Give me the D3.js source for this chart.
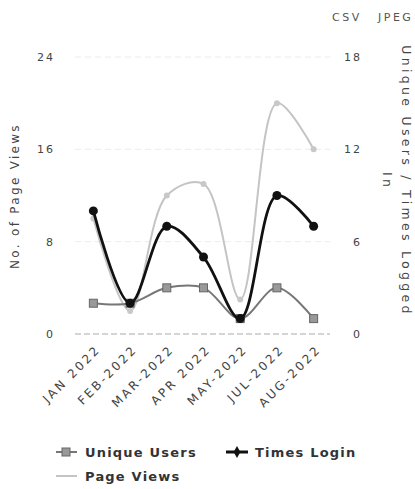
<!DOCTYPE html>
<html>
<head>
<meta charset="utf-8">
<script src="https://cdn.jsdelivr.net/npm/d3@7"></script>
<style>
  body { margin: 0; background: #fff; }
  svg { display: block; font-family: "DejaVu Sans", Verdana, sans-serif; }
</style>
</head>
<body>
<svg id="chart" width="415" height="489"></svg>
<script>
// data
var months = ["JAN 2022", "FEB-2022", "MAR-2022", "APR 2022", "MAY-2022", "JUL-2022", "AUG-2022"];
var uniqueUsers = [2, 2, 3, 3, 1, 3, 1];
var timesLogin = [8, 2, 7, 5, 1, 9, 7];
var pageViews = [10, 2, 12, 13, 3, 20, 16];
var leftTicks = [0, 8, 16, 24];
var rightTicks = [0, 6, 12, 18];

var svg = d3.select("#chart");

var x = d3.scalePoint().domain(months).range([75, 332]).padding(0.5);
var yLeft = d3.scaleLinear().domain([0, 24]).range([334, 57]);
var yRight = d3.scaleLinear().domain([0, 18]).range([334, 57]);

// grid lines
svg.append("g").selectAll("line")
  .data(leftTicks.slice(1))
  .enter().append("line")
    .attr("x1", 75).attr("x2", 330)
    .attr("y1", function(d) { return yLeft(d); })
    .attr("y2", function(d) { return yLeft(d); })
    .attr("stroke", "#ececec")
    .attr("stroke-dasharray", "6,4");

svg.append("line")
  .attr("x1", 75).attr("x2", 330)
  .attr("y1", yLeft(0)).attr("y2", yLeft(0))
  .attr("stroke", "#aaa")
  .attr("stroke-dasharray", "6,3");

// left axis labels
svg.append("g").selectAll("text")
  .data(leftTicks)
  .enter().append("text")
    .attr("x", 55)
    .attr("y", function(d) { return yLeft(d) + 4; })
    .attr("text-anchor", "end")
    .attr("font-size", 11)
    .attr("letter-spacing", 2)
    .attr("fill", "#444")
    .text(function(d) { return d; });

// right axis labels
svg.append("g").selectAll("text")
  .data(rightTicks)
  .enter().append("text")
    .attr("x", 362)
    .attr("y", function(d) { return yRight(d) + 4; })
    .attr("text-anchor", "end")
    .attr("font-size", 11)
    .attr("letter-spacing", 2)
    .attr("fill", "#444")
    .text(function(d) { return d; });

// x labels
svg.append("g").selectAll("text")
  .data(months)
  .enter().append("text")
    .attr("text-anchor", "end")
    .attr("font-size", 12)
    .attr("letter-spacing", 2.6)
    .attr("fill", "#444")
    .attr("transform", function(d) { return "translate(" + (x(d) + 8) + ",350) rotate(-45)"; })
    .text(function(d) { return d; });

// axis titles
svg.append("text")
  .attr("transform", "translate(19,196) rotate(-90)")
  .attr("text-anchor", "middle")
  .attr("font-size", 12)
  .attr("letter-spacing", 2.3)
  .attr("fill", "#444")
  .text("No. of Page Views");

var rt = svg.append("text")
  .attr("transform", "translate(402,181) rotate(90)")
  .attr("text-anchor", "middle")
  .attr("font-size", 12.5)
  .attr("letter-spacing", 3.3)
  .attr("fill", "#444");
rt.append("tspan").attr("x", 0).attr("dy", 0).text("Unique Users / Times Logged");
rt.append("tspan").attr("x", 0).attr("dy", 19).text("In");

// export links
svg.append("text").attr("x", 332).attr("y", 21).attr("font-size", 11).attr("letter-spacing", 2.5).attr("fill", "#555").text("CSV");
svg.append("text").attr("x", 378).attr("y", 21).attr("font-size", 11).attr("letter-spacing", 2.5).attr("fill", "#555").text("JPEG");

var curve = d3.curveCatmullRom.alpha(0.5);

// page views (left axis)
var linePV = d3.line()
  .x(function(d, i) { return x(months[i]); })
  .y(function(d) { return yLeft(d); })
  .curve(curve);

svg.append("path")
  .datum(pageViews)
  .attr("d", linePV)
  .attr("fill", "none")
  .attr("stroke", "#c4c4c4")
  .attr("stroke-width", 2);

svg.append("g").selectAll("circle")
  .data(pageViews)
  .enter().append("circle")
    .attr("cx", function(d, i) { return x(months[i]); })
    .attr("cy", function(d) { return yLeft(d); })
    .attr("r", 3)
    .attr("fill", "#c8c8c8");

// unique users (right axis)
var lineRight = d3.line()
  .x(function(d, i) { return x(months[i]); })
  .y(function(d) { return yRight(d); })
  .curve(curve);

svg.append("path")
  .datum(uniqueUsers)
  .attr("d", lineRight)
  .attr("fill", "none")
  .attr("stroke", "#777")
  .attr("stroke-width", 2);

svg.append("g").selectAll("rect")
  .data(uniqueUsers)
  .enter().append("rect")
    .attr("x", function(d, i) { return x(months[i]) - 4; })
    .attr("y", function(d) { return yRight(d) - 4; })
    .attr("width", 8).attr("height", 8)
    .attr("fill", "#999")
    .attr("stroke", "#666")
    .attr("stroke-width", 1);

// times login (right axis)
svg.append("path")
  .datum(timesLogin)
  .attr("d", lineRight)
  .attr("fill", "none")
  .attr("stroke", "#111")
  .attr("stroke-width", 2.8);

svg.append("g").selectAll("circle")
  .data(timesLogin)
  .enter().append("circle")
    .attr("cx", function(d, i) { return x(months[i]); })
    .attr("cy", function(d) { return yRight(d); })
    .attr("r", 4.5)
    .attr("fill", "#111");

// legend
var legend = svg.append("g").attr("font-size", 13).attr("font-weight", "bold").attr("letter-spacing", 1.2).attr("fill", "#333");

legend.append("line").attr("x1", 56).attr("x2", 77).attr("y1", 452).attr("y2", 452).attr("stroke", "#777").attr("stroke-width", 2);
legend.append("rect").attr("x", 62).attr("y", 448).attr("width", 8).attr("height", 8).attr("fill", "#999").attr("stroke", "#666");
legend.append("text").attr("x", 85).attr("y", 457).text("Unique Users");

legend.append("line").attr("x1", 226).attr("x2", 248).attr("y1", 452).attr("y2", 452).attr("stroke", "#111").attr("stroke-width", 3);
legend.append("path").attr("d", d3.symbol(d3.symbolDiamond, 40)()).attr("transform", "translate(237,452)").attr("fill", "#111");
legend.append("text").attr("x", 255).attr("y", 457).text("Times Login");

legend.append("line").attr("x1", 56).attr("x2", 77).attr("y1", 476).attr("y2", 476).attr("stroke", "#c4c4c4").attr("stroke-width", 2);
legend.append("text").attr("x", 85).attr("y", 481).text("Page Views");
</script>
</body>
</html>
